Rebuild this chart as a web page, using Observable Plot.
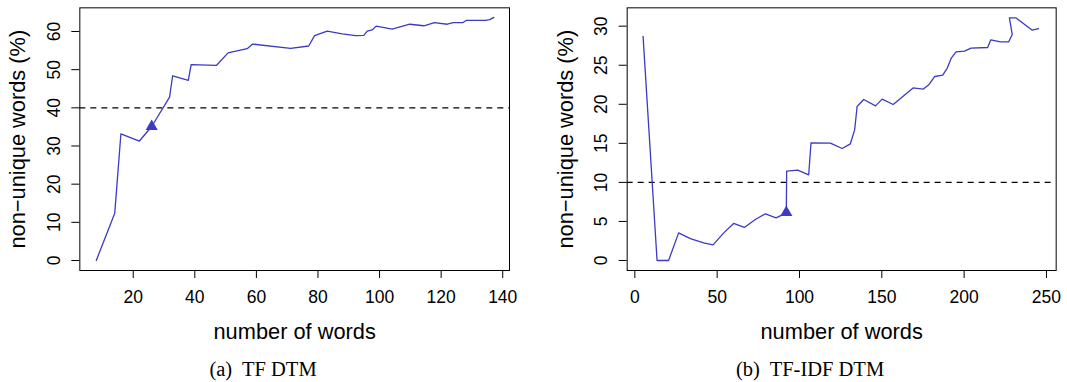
<!DOCTYPE html>
<html><head><meta charset="utf-8">
<script src="https://cdn.jsdelivr.net/npm/d3@7"></script>
<script src="https://cdn.jsdelivr.net/npm/@observablehq/plot@0.6"></script>
<style>
body{margin:0;background:#fff;width:1067px;height:382px;overflow:hidden;position:relative}
.panel{position:absolute;top:0}
.cap{font-family:"Liberation Serif","Times New Roman",serif;font-size:20.5px;height:38px;line-height:38px;text-align:center;color:#000;white-space:pre}
g[aria-label$="axis label"] text{font-size:21.8px}
</style></head><body>
<div id="a" class="panel" style="left:0;width:533px"></div>
<div id="b" class="panel" style="left:533px;width:534px"></div>
<script>
// ---- data ----
const tfWords = [8, 14, 16, 22, 26, 31.8, 32.8, 37.9, 38.8, 47, 50.8, 57, 58.8, 71.1, 77, 78.9, 83, 87.9, 92.2, 94.9, 96, 97.6, 98.9, 104.1, 109.8, 114.4, 117.8, 122, 123.9, 127, 128.1, 134.4, 135.8, 137.1];
const tfPct   = [0, 12.4, 33.2, 31.3, 35.1, 42.8, 48.4, 47.2, 51.3, 51.1, 54.4, 55.5, 56.7, 55.6, 56.2, 58.9, 60.1, 59.4, 58.9, 59.0, 60.1, 60.4, 61.4, 60.6, 61.9, 61.5, 62.3, 61.9, 62.3, 62.3, 62.9, 62.9, 63.1, 63.7];
const tfMark = [26, 35.1];
const tfThreshold = 40;
const tfXTicks = [20, 40, 60, 80, 100, 120, 140];
const tfYTicks = [0, 10, 20, 30, 40, 50, 60];

const idfWords = [5, 13.5, 20.5, 26.6, 33.7, 41.8, 47.5, 54, 60, 66.5, 73.2, 79.3, 85.8, 92, 92.2, 98.9, 105.6, 107, 118.8, 125.9, 130.9, 133.5, 135, 139, 146.2, 150.2, 156.9, 169, 175.1, 178.5, 182.2, 187, 189.7, 192.3, 195.1, 200.2, 204.2, 214.3, 216.2, 222.1, 227.1, 229.2, 227.5, 231.4, 241.2, 245.2];
const idfPct   = [28.7, 0, 0, 3.54, 2.8, 2.26, 2.0, 3.54, 4.74, 4.23, 5.25, 5.98, 5.46, 6.1, 11.44, 11.57, 10.97, 15.07, 15.02, 14.34, 14.94, 16.73, 19.72, 20.61, 19.8, 20.66, 19.97, 22.1, 21.94, 22.5, 23.56, 23.73, 24.6, 25.95, 26.7, 26.8, 27.19, 27.27, 28.25, 28.0, 28.0, 28.94, 31.07, 31.07, 29.5, 29.7];
const idfMark = [92, 6.15];
const idfThreshold = 10;
const idfXTicks = [0, 50, 100, 150, 200, 250];
const idfYTicks = [0, 5, 10, 15, 20, 25, 30];

const xLabel = "number of words";
const yLabel = "non\u2212unique words (%)";
const captions = ["(a)  TF DTM", "(b)  TF-IDF DTM"];

const BLUE = "#3b3bc4";

function panel({words, pct, mark, threshold, xDomain, yDomain, xTicks, yTicks, width, mLeft, mRight}) {
  const data = words.map((d, i) => ({x: d, y: pct[i]}));
  return Plot.plot({
    width, height: 350,
    marginLeft: mLeft, marginRight: mRight, marginTop: 7.33, marginBottom: 80,
    style: {fontFamily: "'Liberation Sans', Arial, sans-serif", fontSize: "17.5px", color: "#000", background: "#fff", overflow: "visible"},
    x: {domain: xDomain},
    y: {domain: yDomain},
    marks: [
      Plot.ruleY([threshold], {stroke: "#000", strokeWidth: 1.2, strokeDasharray: "6,5"}),
      Plot.line(data, {x: "x", y: "y", stroke: BLUE, strokeWidth: 1.3}),
      Plot.dot([mark], {x: d => d[0], y: d => d[1], symbol: "triangle", r: 4.5, fill: BLUE, stroke: "none"}),
      Plot.frame({stroke: "#000", strokeWidth: 1}),
      Plot.axisX({ticks: xTicks, tickSize: 8, tickPadding: 12.5, label: xLabel, labelAnchor: "center", labelOffset: 68, labelArrow: "none"}),
      Plot.axisY({ticks: yTicks, tickSize: 8, tickPadding: 11.7, tickRotate: -90, label: yLabel, labelAnchor: "center", labelOffset: 70, labelArrow: "none"})
    ]
  });
}

function addCaption(el, text, padL, padR) {
  const c = document.createElement("div");
  c.className = "cap";
  c.style.paddingLeft = padL + "px";
  c.style.paddingRight = padR + "px";
  c.textContent = text;
  el.appendChild(c);
}

const a = document.getElementById("a");
a.appendChild(panel({words: tfWords, pct: tfPct, mark: tfMark, threshold: tfThreshold,
  xDomain: [2.66, 142.2], yDomain: [-2.62, 66.2], xTicks: tfXTicks, yTicks: tfYTicks,
  width: 533, mLeft: 79.33, mRight: 24}));
addCaption(a, captions[0], 0, 7);

const b = document.getElementById("b");
b.appendChild(panel({words: idfWords, pct: idfPct, mark: idfMark, threshold: idfThreshold,
  xDomain: [-4.66, 255.9], yDomain: [-1.28, 32.35], xTicks: idfXTicks, yTicks: idfYTicks,
  width: 534, mLeft: 93.67, mRight: 11.33}));
addCaption(b, captions[1], 20, 0);
</script>
</body></html>
